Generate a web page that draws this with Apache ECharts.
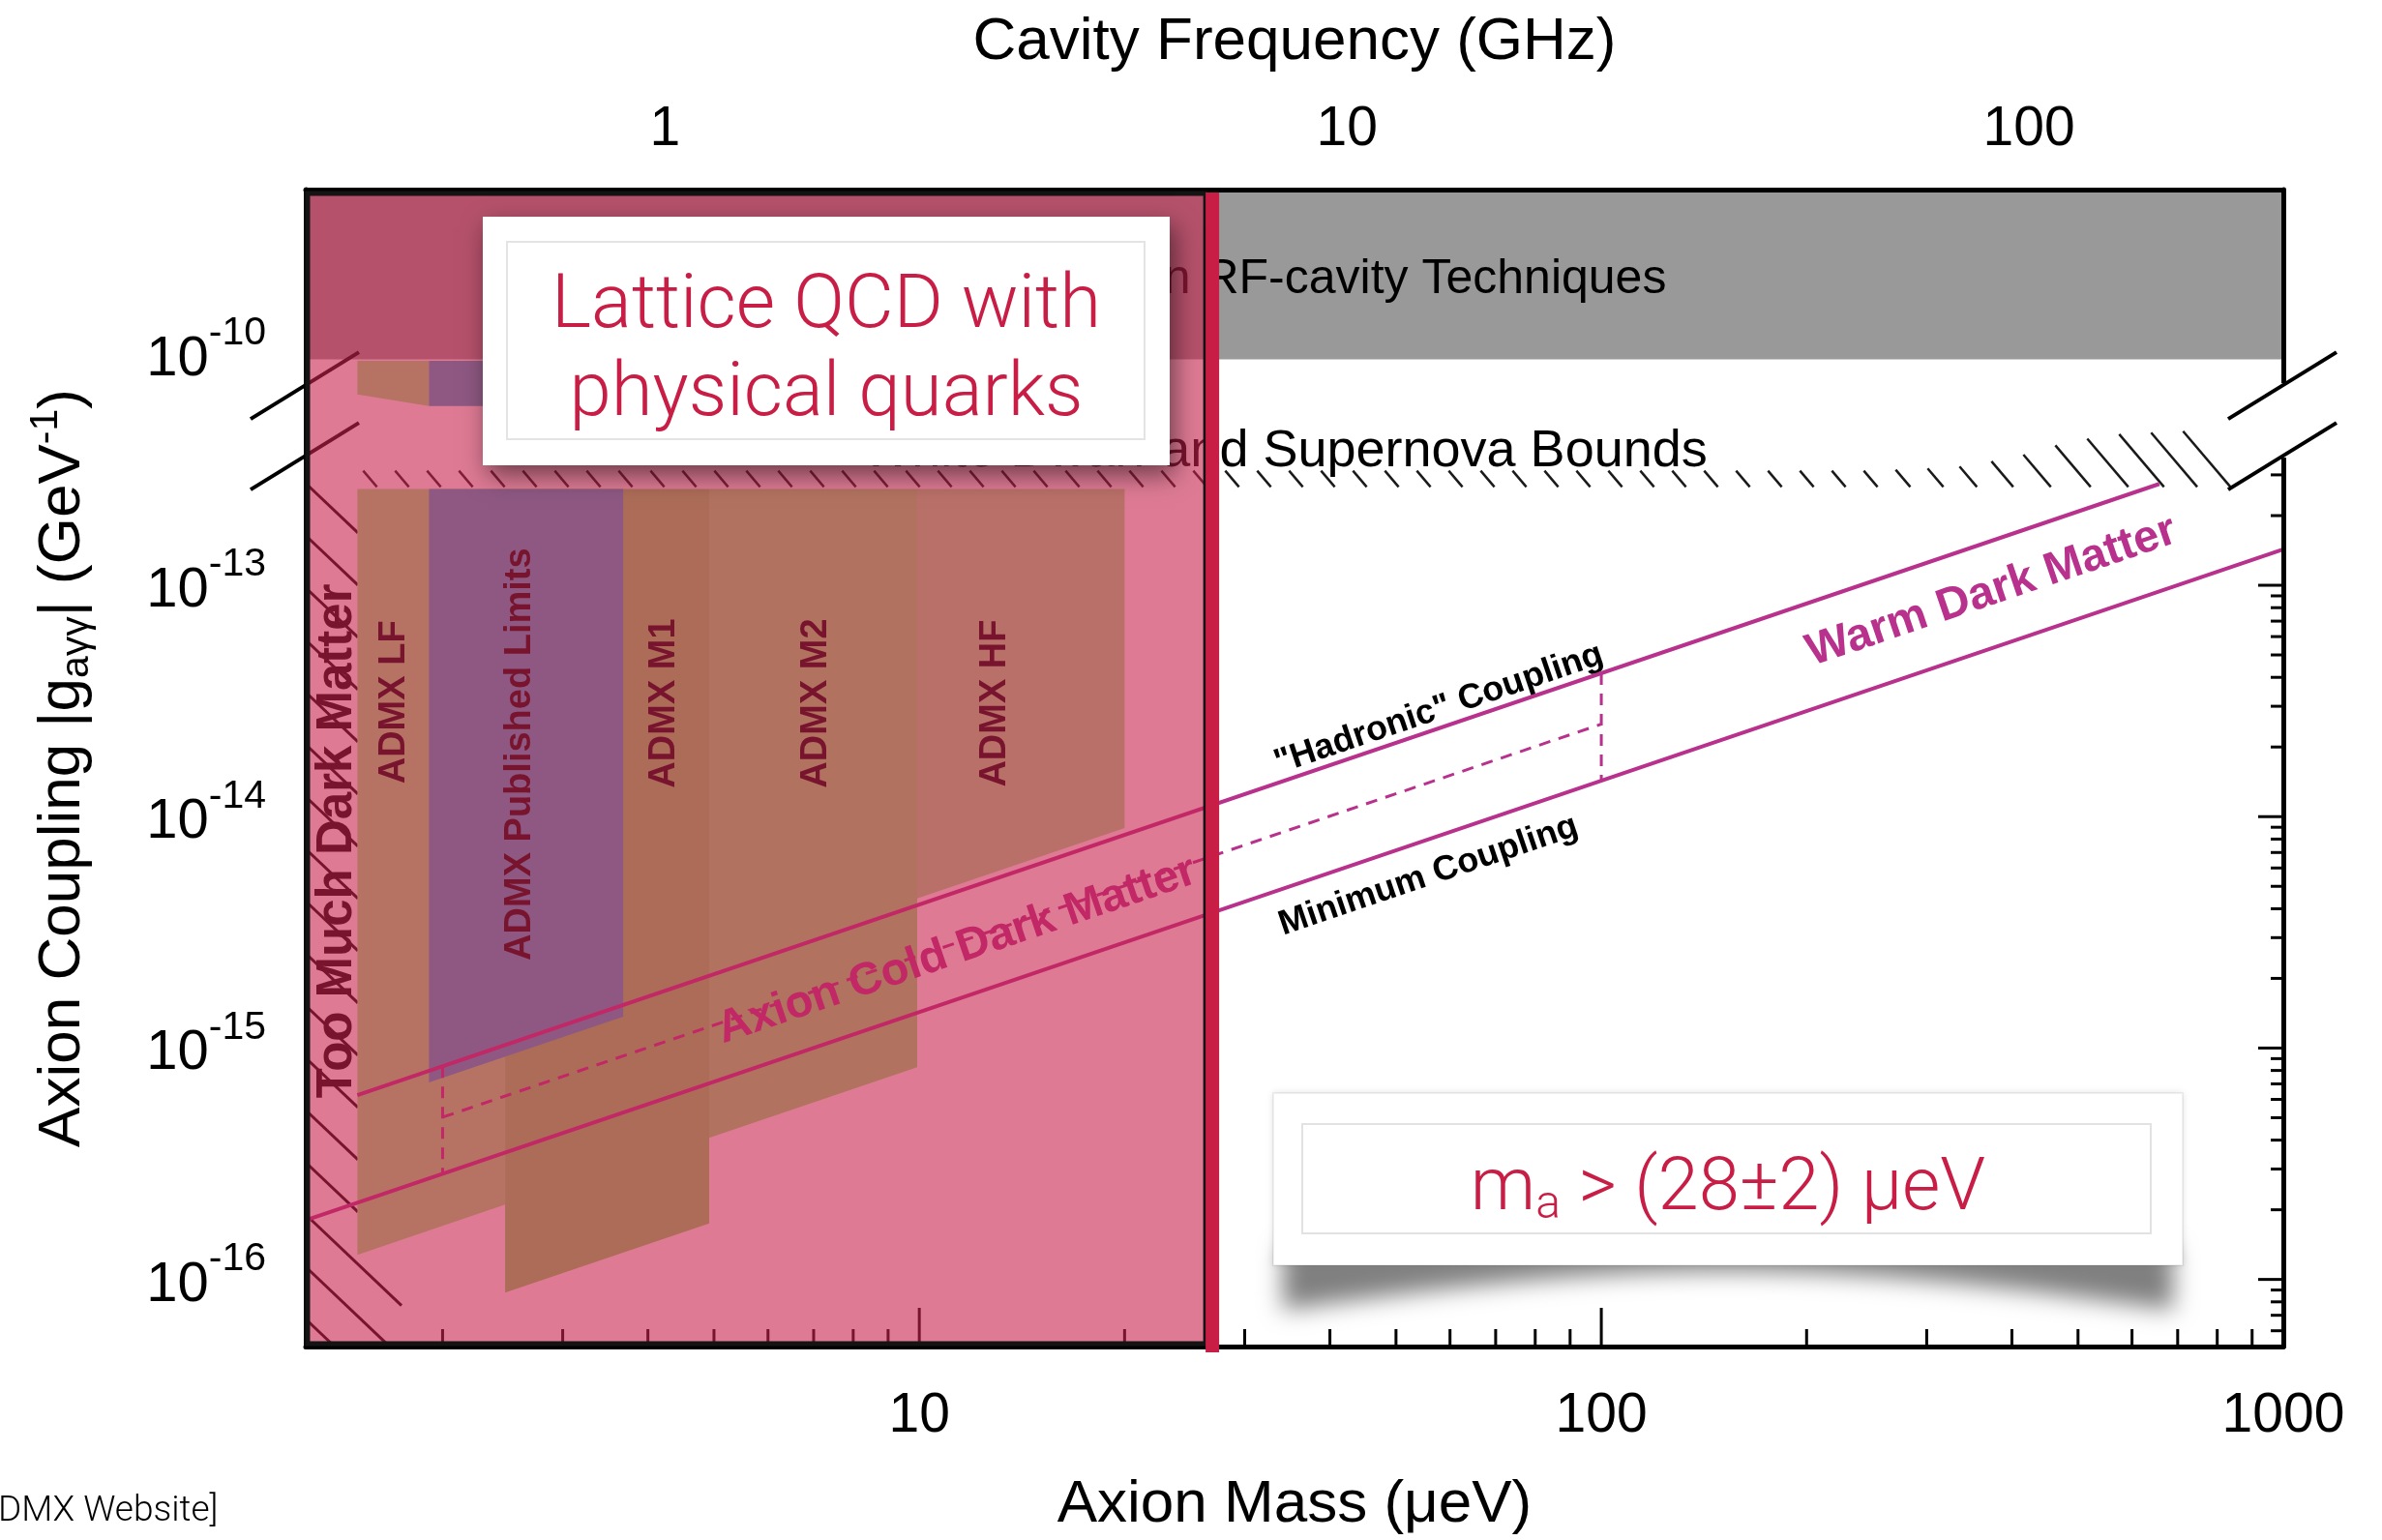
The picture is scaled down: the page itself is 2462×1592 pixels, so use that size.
<!DOCTYPE html>
<html>
<head>
<meta charset="utf-8">
<script src="https://cdn.jsdelivr.net/npm/echarts@6/dist/echarts.min.js"></script>
<style>
html,body{margin:0;padding:0;background:#ffffff;}
#chart{width:2462px;height:1592px;}
</style>
</head>
<body>
<div id="chart"></div>
<script>
// ================= data =================
const massRange = [1.26, 1000];            // axion mass, μeV (log axis)
const GHzPerMicroEV = 0.236;               // cavity frequency per μeV (top axis)
const couplingRange = [-16.29, -11.29];    // decades on the broken coupling axis
const yTickValues = [-16, -15, -14, -13, -12];
const yTickExponents = ['-16', '-15', '-14', '-13', '-10'];
const xMajorTicks = [10, 100];
const xMinorTicks = [2,3,4,5,6,7,8,9,20,30,40,50,60,70,80,90,200,300,400,500,600,700,800,900];
const yRightMajorTicks = [-16, -15, -14, -13];
const yRightMinorMantissa = [2,3,4,5,6,7,8,9];
const yRightDecades = [-17, -16, -15, -14, -13];
const breakLevels = [-12.135, -12.44];

const rfCavityBand = [[1.26,-12.024],[1000,-12.024],[1000,-11.29],[1.26,-11.29]];
const admxLFTop   = [[1.5,-12.03],[1.91,-12.03],[1.91,-12.225],[1.5,-12.175]];
const admxPubTop  = [[1.91,-12.03],[3.68,-12.03],[3.68,-12.225],[1.91,-12.225]];
const admxLF      = [[1.5,-12.584],[2.47,-12.584],[2.47,-15.677],[1.5,-15.894]];
const admxM1      = [[2.47,-12.584],[4.92,-12.584],[4.92,-15.758],[2.47,-16.057]];
const admxM2      = [[4.92,-12.584],[9.93,-12.584],[9.93,-15.083],[4.92,-15.388]];
const admxHF      = [[9.93,-12.584],[20,-12.584],[20,-14.049],[9.93,-14.353]];
const admxPub     = [[1.91,-12.584],[3.68,-12.584],[3.68,-14.864],[1.91,-15.149]];
const tmdmBoundary = [[1.5,-12.45],[1.5,-15.87],[1.787,-16.157],[1.97,-16.29]];
const boundTop = [[1.5,-12.505],[250,-12.505],[330,-12.49],[400,-12.45],[470,-12.39],[550,-12.35],[760,-12.33]];
const boundBottom = -12.575;

const hadronicLine = [[1.5,-15.204],[658,-12.562]];
const minimumLine  = [[1.27,-15.741],[1000,-12.845]];
const cdmMidLine   = [[2,-15.299],[100,-13.6]];
const cdmLeftEdge  = [[2,-15.079],[2,-15.544]];
const cdmRightEdge = [[100,-13.38],[100,-13.845]];
const latticeBound = 26.9;                 // μeV

const admxLabelNames = ['ADMX LF','ADMX Published Limits','ADMX M1','ADMX M2','ADMX HF'];
const admxLabelPos = [[1.70,-13.505],[2.594,-13.73],[4.22,-13.51],[7.05,-13.51],[12.9,-13.51]];
const bandTexts = ['Axion Cold Dark Matter','Warm Dark Matter','"Hadronic" Coupling','Minimum Coupling'];
const bandTextPos = [[11.36,-14.579],[373.6,-13.028],[57.8,-13.535],[55.8,-14.255]];
const tmdmText = ['Too Much Dark Matter'];
const tmdmTextPos = [[1.404,-14.105]];
const rfText = ['Limits Based on RF-cavity Techniques'];
const rfTextPos = [[124.6,-11.68]];
const boundText = ['White Dwarf and Supernova Bounds'];
const boundTextPos = [[8.25,-12.422]];

// ================= styling =================
const FONT = '"Liberation Sans", Arial, Helvetica, sans-serif';
const LIGHT = 'Roboto, "Noto Sans", "Liberation Sans", sans-serif';
const MAGENTA = '#B8318C';
const RED = '#C81D45';

const chart = echarts.init(document.getElementById('chart'));

function polygonSeries(pts, color, z) {
  return {
    type: 'custom', coordinateSystem: 'cartesian2d', z, silent: true, clip: true,
    data: pts, encode: { x: 0, y: 1 },
    renderItem: (params, api) => params.dataIndex !== 0 ? null : {
      type: 'polygon', shape: { points: pts.map(p => api.coord(p)) }, style: { fill: color }
    }
  };
}
function textSeries(texts, pos, style, rot, z) {
  return {
    type: 'custom', coordinateSystem: 'cartesian2d', z, silent: true, clip: false,
    data: pos, encode: { x: 0, y: 1 },
    renderItem: (params, api) => {
      const p = api.coord([api.value(0), api.value(1)]);
      return {
        type: 'text', x: p[0], y: p[1], rotation: rot ? rot(api) : 0,
        style: Object.assign({ text: texts[params.dataIndex] }, style)
      };
    }
  };
}
const slopeRot = api => {
  const a = api.coord([10, -14]), b = api.coord([100, -13]);
  return Math.atan2(a[1] - b[1], b[0] - a[0]);
};
const vertRot = () => Math.PI / 2;
function lineSeries(data, width, dashed) {
  return {
    type: 'line', data, symbol: 'none', z: 4, silent: true, clip: true,
    lineStyle: { color: MAGENTA, width, type: dashed ? [12, 9] : 'solid' }
  };
}

const yMinor = [];
yRightDecades.forEach(d => yRightMinorMantissa.forEach(k => {
  const v = d + Math.log10(k);
  if (v > couplingRange[0] && v < -12.5) yMinor.push(v);
}));

const series = [
  polygonSeries(rfCavityBand, '#999999', 1),
  textSeries(rfText, rfTextPos, { fontSize: 50, fontFamily: FONT, fill: '#000', align: 'right', verticalAlign: 'middle' }, null, 2),
  polygonSeries(admxLFTop, '#9BEE86', 2),
  polygonSeries(admxPubTop, '#37AAD2', 2),
  // Too Much Dark Matter hatching
  {
    type: 'custom', coordinateSystem: 'cartesian2d', z: 2, silent: true, clip: true,
    data: tmdmBoundary, encode: { x: 0, y: 1 },
    renderItem: (params, api) => {
      if (params.dataIndex !== 0) return null;
      const bnd = tmdmBoundary.map(p => api.coord(p));
      const c0 = api.coord([massRange[0], couplingRange[0]]);
      const xL = c0[0] + 3, yB = c0[1] - 2, yT = bnd[0][1];
      const bx = y => {
        for (let i = 0; i < bnd.length - 1; i++) {
          const a = bnd[i], b = bnd[i + 1];
          if (y >= a[1] && y <= b[1]) return a[0] + (b[0] - a[0]) * (y - a[1]) / (b[1] - a[1]);
        }
        return bnd[bnd.length - 1][0];
      };
      const children = [];
      for (let y0 = yT + 29; y0 < yB; y0 += 54) {
        let t = 0;
        while (t < 800) {
          const x = xL + t, y = y0 + t * 0.95;
          if (x >= bx(y) || y >= yB) break;
          t += 1;
        }
        if (t > 3) children.push({ type: 'line', shape: { x1: xL, y1: y0, x2: xL + t, y2: y0 + t * 0.95 }, style: { stroke: '#000', lineWidth: 3 } });
      }
      return { type: 'group', children };
    }
  },
  polygonSeries(admxLF, '#9BEE86', 3),
  polygonSeries(admxM1, '#82DC69', 3),
  polygonSeries(admxM2, '#91EC7D', 3),
  polygonSeries(admxHF, '#A2E691', 3),
  polygonSeries(admxPub, '#37AAD2', 3),
  // white dwarf / supernova bound hatching
  {
    type: 'custom', coordinateSystem: 'cartesian2d', z: 3, silent: true, clip: true,
    data: boundTop, encode: { x: 0, y: 1 },
    renderItem: (params, api) => {
      if (params.dataIndex !== 0) return null;
      const top = boundTop.map(p => api.coord(p));
      const yB = api.coord([10, boundBottom])[1];
      const ty = x => {
        for (let i = 0; i < top.length - 1; i++) {
          const a = top[i], b = top[i + 1];
          if (x >= a[0] && x <= b[0]) return a[1] + (b[1] - a[1]) * (x - a[0]) / (b[0] - a[0]);
        }
        return top[top.length - 1][1];
      };
      const children = [];
      for (let x = top[0][0] + 6; x <= top[top.length - 1][0]; x += 33) {
        const yT = ty(x), h = yB - yT;
        children.push({ type: 'line', shape: { x1: x, y1: yT, x2: x + 0.85 * h, y2: yB }, style: { stroke: '#1a1a1a', lineWidth: 2.5 } });
      }
      return { type: 'group', children };
    }
  },
  textSeries(boundText, boundTextPos, { fontSize: 54, fontFamily: FONT, fill: '#000', align: 'left', verticalAlign: 'middle' }, null, 3),
  textSeries(admxLabelNames, admxLabelPos, { fontSize: 38, fontWeight: 'bold', fontFamily: FONT, fill: '#000', align: 'center', verticalAlign: 'middle' }, vertRot, 3),
  textSeries(tmdmText, tmdmTextPos, { fontSize: 51, fontWeight: 'bold', fontFamily: FONT, fill: '#000', align: 'center', verticalAlign: 'middle' }, vertRot, 3),
  lineSeries(hadronicLine, 4, false),
  lineSeries(minimumLine, 4, false),
  lineSeries(cdmMidLine, 3, true),
  lineSeries(cdmLeftEdge, 3, true),
  lineSeries(cdmRightEdge, 3, true),
  textSeries(bandTexts.slice(0, 2), bandTextPos.slice(0, 2), { fontSize: 47, fontWeight: 'bold', fontFamily: FONT, fill: MAGENTA, align: 'center', verticalAlign: 'middle' }, slopeRot, 4),
  textSeries(bandTexts.slice(2), bandTextPos.slice(2), { fontSize: 36, fontWeight: 'bold', fontFamily: FONT, fill: '#000', align: 'center', verticalAlign: 'middle' }, slopeRot, 4),
  // bottom axis ticks
  {
    type: 'custom', coordinateSystem: 'cartesian2d', z: 4, silent: true, clip: false,
    data: xMajorTicks.map(v => [v, couplingRange[0], 1]).concat(xMinorTicks.map(v => [v, couplingRange[0], 0])),
    encode: { x: 0, y: 1 },
    renderItem: (params, api) => {
      const p = api.coord([api.value(0), api.value(1)]);
      const len = api.value(2) ? 40 : 18;
      return { type: 'line', shape: { x1: p[0], y1: p[1] - 2, x2: p[0], y2: p[1] - len }, style: { stroke: '#000', lineWidth: 3 } };
    }
  },
  // right axis ticks
  {
    type: 'custom', coordinateSystem: 'cartesian2d', z: 4, silent: true, clip: false,
    data: yRightMajorTicks.map(v => [massRange[1], v, 1]).concat(yMinor.map(v => [massRange[1], v, 0])),
    encode: { x: 0, y: 1 },
    renderItem: (params, api) => {
      const p = api.coord([api.value(0), api.value(1)]);
      const len = api.value(2) ? 26 : 13;
      return { type: 'line', shape: { x1: p[0] - 2, y1: p[1], x2: p[0] - len, y2: p[1] }, style: { stroke: '#000', lineWidth: 3 } };
    }
  },
  // gap in the right border at the axis break
  {
    type: 'custom', coordinateSystem: 'cartesian2d', z: 6, silent: true, clip: false,
    data: [[massRange[1], breakLevels[0]]], encode: { x: 0, y: 1 },
    renderItem: (params, api) => {
      const a = api.coord([massRange[1], breakLevels[0]]), b = api.coord([massRange[1], breakLevels[1]]);
      return { type: 'rect', shape: { x: a[0] - 6, y: a[1] - 2, width: 12, height: b[1] - a[1] + 4 }, style: { fill: '#fff' } };
    }
  },
  // break marks on both vertical axes
  {
    type: 'custom', coordinateSystem: 'cartesian2d', z: 7, silent: true, clip: false,
    data: [[massRange[0], breakLevels[0]], [massRange[0], breakLevels[1]], [massRange[1], breakLevels[0]], [massRange[1], breakLevels[1]]],
    encode: { x: 0, y: 1 },
    renderItem: (params, api) => {
      const p = api.coord([api.value(0), api.value(1)]);
      return { type: 'line', shape: { x1: p[0] - 57, y1: p[1] + 35, x2: p[0] + 55, y2: p[1] - 34 }, style: { stroke: '#000', lineWidth: 4 } };
    }
  },
  // lattice QCD exclusion overlay
  {
    type: 'custom', coordinateSystem: 'cartesian2d', z: 8, silent: true, clip: false,
    data: [[massRange[0], couplingRange[1]], [latticeBound, couplingRange[0]]], encode: { x: 0, y: 1 },
    renderItem: (params, api) => {
      if (params.dataIndex !== 0) return null;
      const a = api.coord([massRange[0], couplingRange[1]]), b = api.coord([latticeBound, couplingRange[0]]);
      return {
        type: 'group', children: [
          { type: 'rect', shape: { x: a[0] + 2, y: a[1] + 4, width: b[0] - a[0] - 9, height: b[1] - a[1] - 7 },
            style: { fill: 'rgba(200,33,77,0.6)', stroke: '#141414', lineWidth: 5 } },
          { type: 'line', shape: { x1: b[0], y1: a[1] + 3, x2: b[0], y2: b[1] + 6 }, style: { stroke: RED, lineWidth: 14 } }
        ]
      };
    }
  }
];

// curled shadow under the mass box
const curl = [];
const cx0 = 1326, cx1 = 2246;
curl.push([cx0, 1290]);
for (let i = 0; i <= 48; i++) {
  const t = i / 48;
  curl.push([cx0 + (cx1 - cx0) * t, 1354 - 40 * Math.sin(Math.PI * t)]);
}
curl.push([cx1, 1290]);

const option = {
  animation: false,
  backgroundColor: '#ffffff',
  textStyle: { fontFamily: FONT },
  grid: { left: 316, top: 196, width: 2044, height: 1206, show: false },
  xAxis: [
    {
      type: 'log', logBase: 10, min: massRange[0], max: massRange[1], position: 'bottom', z: 5,
      axisLine: { show: true, onZero: false, lineStyle: { color: '#000', width: 5 } },
      axisTick: { show: false }, minorTick: { show: false }, splitLine: { show: false },
      axisLabel: { showMinLabel: false, fontSize: 57, fontFamily: FONT, color: '#000', margin: 44,
        formatter: v => String(Math.round(v)) },
      name: 'Axion Mass (μeV)', nameLocation: 'middle', nameGap: 133,
      nameTextStyle: { fontSize: 62, fontFamily: FONT, color: '#000' }
    },
    {
      type: 'log', logBase: 10, min: massRange[0] * GHzPerMicroEV, max: massRange[1] * GHzPerMicroEV, position: 'top', z: 5,
      axisLine: { show: true, onZero: false, lineStyle: { color: '#000', width: 5 } },
      axisTick: { show: false }, minorTick: { show: false }, splitLine: { show: false },
      axisLabel: { showMinLabel: false, showMaxLabel: false, fontSize: 57, fontFamily: FONT, color: '#000', margin: 33,
        formatter: v => String(Math.round(v)) },
      name: 'Cavity Frequency (GHz)', nameLocation: 'middle', nameGap: 121,
      nameTextStyle: { fontSize: 62, fontFamily: FONT, color: '#000' }
    }
  ],
  yAxis: [
    {
      type: 'value', min: couplingRange[0], max: couplingRange[1], position: 'left', z: 5,
      axisLine: { show: true, onZero: false, lineStyle: { color: '#000', width: 5 } },
      axisTick: { show: false }, splitLine: { show: false },
      axisLabel: {
        customValues: yTickValues, margin: 41, color: '#000', padding: [12, 0, 0, 0],
        formatter: v => {
          const i = yTickValues.findIndex(t => Math.abs(t - v) < 1e-6);
          return i < 0 ? '' : '{b|10}{s|' + yTickExponents[i] + '}';
        },
        rich: {
          b: { fontSize: 58, fontFamily: FONT, color: '#000', verticalAlign: 'middle' },
          s: { fontSize: 41, fontFamily: FONT, color: '#000', verticalAlign: 'middle', padding: [0, 0, 54, 0] }
        }
      },
      name: '{t|Axion Coupling |g}{sub|aγγ}{t|| (GeV}{sup|-1}{t|)}',
      nameLocation: 'middle', nameRotate: 90, nameGap: 214,
      nameTextStyle: {
        color: '#000',
        rich: {
          t: { fontSize: 62, fontFamily: FONT, color: '#000', verticalAlign: 'middle' },
          sub: { fontSize: 41, fontFamily: FONT, color: '#000', verticalAlign: 'middle', padding: [30, 0, 0, 0] },
          sup: { fontSize: 41, fontFamily: FONT, color: '#000', verticalAlign: 'middle', padding: [0, 0, 34, 0] }
        }
      }
    },
    {
      type: 'value', min: couplingRange[0], max: couplingRange[1], position: 'right', z: 5,
      axisLine: { show: true, onZero: false, lineStyle: { color: '#000', width: 5 } },
      axisTick: { show: false }, axisLabel: { show: false }, splitLine: { show: false }
    }
  ],
  series,
  graphic: [
    // Lattice QCD box
    { type: 'rect', z: 100, shape: { x: 499, y: 224, width: 710, height: 257 },
      style: { fill: '#ffffff', shadowBlur: 24, shadowOffsetX: 5, shadowOffsetY: 10, shadowColor: 'rgba(0,0,0,0.5)' } },
    { type: 'rect', z: 101, shape: { x: 524, y: 250, width: 659, height: 204 },
      style: { fill: 'none', stroke: '#e4e4e4', lineWidth: 2 } },
    { type: 'text', z: 102, x: 854, y: 318,
      style: { text: 'Lattice QCD with', fontSize: 78, fontWeight: 300, fontFamily: LIGHT, fill: RED, align: 'center', verticalAlign: 'middle' } },
    { type: 'text', z: 102, x: 854, y: 409,
      style: { text: 'physical quarks', fontSize: 78, fontWeight: 300, fontFamily: LIGHT, fill: RED, align: 'center', verticalAlign: 'middle' } },
    // mass bound box with curled shadow
    { type: 'polygon', z: 99, shape: { points: curl.map(p => [p[0] - 4000, p[1]]) },
      style: { fill: '#000', shadowBlur: 24, shadowOffsetX: 4000, shadowOffsetY: 0, shadowColor: 'rgba(0,0,0,0.5)' } },
    { type: 'rect', z: 100, shape: { x: 1316, y: 1130, width: 940, height: 178 },
      style: { fill: '#ffffff', stroke: 'rgba(0,0,0,0.06)', lineWidth: 2, shadowBlur: 8, shadowColor: 'rgba(0,0,0,0.12)' } },
    { type: 'rect', z: 101, shape: { x: 1346, y: 1162, width: 877, height: 113 },
      style: { fill: 'none', stroke: '#e2e2e2', lineWidth: 2 } },
    { type: 'text', z: 102, x: 1786, y: 1231,
      style: {
        text: '{m|m}{a|a}{m| > (28±2) μeV}', align: 'center', verticalAlign: 'middle', fill: RED,
        fontFamily: LIGHT, fontWeight: 300, fontSize: 76,
        rich: {
          m: { fontSize: 76, fontFamily: LIGHT, fontWeight: 300, fill: RED, verticalAlign: 'middle' },
          a: { fontSize: 48, fontFamily: LIGHT, fontWeight: 300, fill: RED, verticalAlign: 'middle', padding: [32, 0, 0, 0] }
        }
      } },
    // source note
    { type: 'text', z: 102, x: -34, y: 1563,
      style: { text: '[ADMX Website]', fontSize: 37, fontWeight: 300, fontFamily: LIGHT, fill: '#000', align: 'left', verticalAlign: 'middle' } }
  ]
};
chart.setOption(option);
</script>
</body>
</html>
